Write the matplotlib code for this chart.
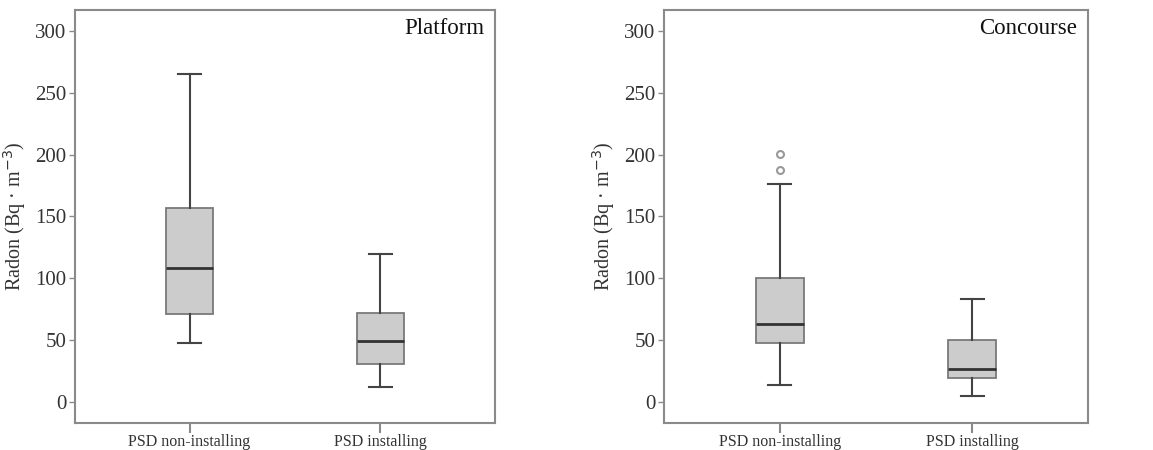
import numpy as np
import matplotlib.pyplot as plt

plt.rcParams['font.family'] = ['Liberation Serif', 'DejaVu Serif']

# Data (Bq m^-3)
groups = ["PSD non-installing", "PSD installing"]
panels = ["Platform", "Concourse"]

platform_low = [48, 12.5]
platform_q1 = [71, 31]
platform_med = [108.5, 49]
platform_q3 = [156.5, 72]
platform_high = [265, 120]
platform_fliers = [[], []]

concourse_low = [13.5, 5]
concourse_q1 = [48, 19]
concourse_med = [63, 26.5]
concourse_q3 = [100, 50]
concourse_high = [176.5, 83]
concourse_fliers = [[187.5, 200.5], []]

data = {
    "Platform": (platform_low, platform_q1, platform_med, platform_q3, platform_high, platform_fliers),
    "Concourse": (concourse_low, concourse_q1, concourse_med, concourse_q3, concourse_high, concourse_fliers),
}

W, H = 1153, 450
fig = plt.figure(figsize=(W / 100, H / 100), dpi=100)
rects = [[75 / W, 27 / H, 420 / W, 413 / H], [664 / W, 27 / H, 424 / W, 413 / H]]

frame_col = "#8a8a8a"
for rect, name in zip(rects, panels):
    ax = fig.add_axes(rect)
    low, q1, med, q3, high, fl = data[name]
    stats = []
    for i in range(len(groups)):
        stats.append(dict(whislo=low[i], q1=q1[i], med=med[i], q3=q3[i],
                          whishi=high[i], fliers=fl[i], label=groups[i]))
    ax.bxp(stats, positions=[1, 2], widths=0.25, patch_artist=True,
           boxprops=dict(facecolor="#cccccc", edgecolor="#7a7a7a", linewidth=1.3),
           medianprops=dict(color="#333333", linewidth=2),
           whiskerprops=dict(color="#444444", linewidth=1.5),
           capprops=dict(color="#444444", linewidth=1.5),
           flierprops=dict(marker="o", markersize=5, markerfacecolor="none",
                           markeredgecolor="#999999", markeredgewidth=1.5),
           capwidths=0.12)
    ax.set_xlim(0.4, 2.6)
    ax.set_ylim(-17, 317)
    ax.set_yticks([0, 50, 100, 150, 200, 250, 300])
    for sp in ax.spines.values():
        sp.set_color(frame_col)
        sp.set_linewidth(1.5)
    ax.tick_params(axis="y", direction="out", length=4, width=1, color=frame_col,
                   labelsize=15, pad=2, labelcolor="#333333")
    ax.tick_params(axis="x", direction="out", length=7, width=1.5, color=frame_col,
                   labelsize=11.5, pad=1, labelcolor="#333333")
    ax.set_ylabel("Radon (Bq · m$^{-3}$)", fontsize=14.5, color="#333333", labelpad=5)
    ax.text(0.975, 0.955, name, transform=ax.transAxes, ha="right", va="center",
            fontsize=16.5, color="#111111")

fig.savefig("out.png", dpi=100)
